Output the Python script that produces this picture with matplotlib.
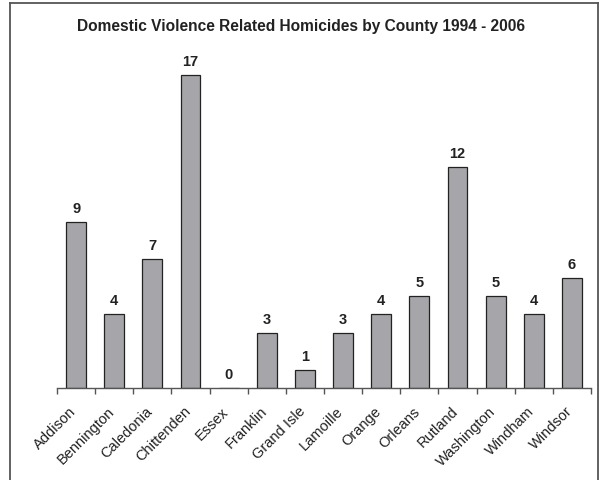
import matplotlib
matplotlib.use("Agg")
import matplotlib.pyplot as plt
from matplotlib.lines import Line2D
from matplotlib.transforms import ScaledTranslation

counties = ["Addison", "Bennington", "Caledonia", "Chittenden", "Essex", "Franklin",
            "Grand Isle", "Lamoille", "Orange", "Orleans", "Rutland", "Washington",
            "Windham", "Windsor"]
homicides = [9, 4, 7, 17, 0, 3, 1, 3, 4, 5, 12, 5, 4, 6]
title = "Domestic Violence Related Homicides by County 1994 - 2006"

plt.rcParams['font.family'] = ['Liberation Sans', 'DejaVu Sans']

W, H = 602, 481
fig = plt.figure(figsize=(W/100, H/100), dpi=100)
ax = fig.add_axes([57/W, 1-389/H, (591-57)/W, (389-50)/H])
x = list(range(len(counties)))
ax.bar(x, homicides, width=0.52, color="#a6a6aa", edgecolor="#222222", linewidth=0.9)
ax.set_xlim(-0.5, len(counties)-0.5)
ax.set_ylim(0, (389-50)/18.4)
for xi, v in zip(x, homicides):
    ax.annotate(str(v), (xi, v), xytext=(0, 5), textcoords="offset points",
                ha="center", va="bottom", fontsize=10.5, fontweight="bold", color="#222222")
for s in ["top", "right", "left"]:
    ax.spines[s].set_visible(False)
ax.spines["bottom"].set_color("#555555")
ax.spines["bottom"].set_linewidth(1.0)
ax.set_yticks([])
ax.set_xticks([i-0.5 for i in range(len(counties)+1)])
ax.set_xticklabels([])
ax.tick_params(axis="x", which="major", length=4, color="#555555", width=1.0)

lab_tr = ax.get_xaxis_transform() + ScaledTranslation(-7/100, -15.5/100, fig.dpi_scale_trans)
for xi, name in zip(x, counties):
    ax.text(xi, 0, name, transform=lab_tr, rotation=45, ha="right", va="top",
            rotation_mode="anchor", fontsize=10.5, color="#222222", clip_on=False)

fig.text(0.5, 1-27/H, title, ha="center", va="center", fontsize=11.2, fontweight="bold", color="#222222")

bc = "#555555"
fig.add_artist(Line2D([10/W, 10/W], [0, 1-4/H], color=bc, lw=1.3))
fig.add_artist(Line2D([10/W, 598/W], [1-4/H, 1-4/H], color=bc, lw=1.3))
fig.add_artist(Line2D([598/W, 598/W], [0, 1-4/H], color=bc, lw=1.3))

fig.savefig("out.png", dpi=100)
